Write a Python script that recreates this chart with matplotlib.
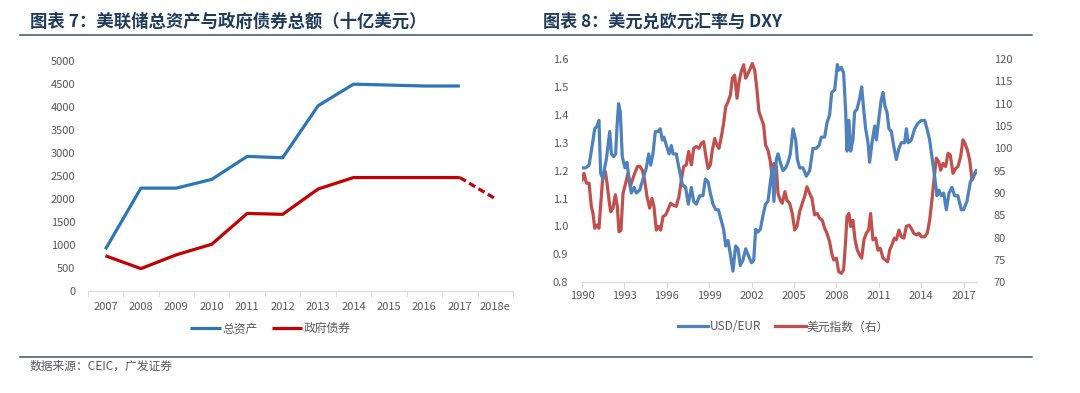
import matplotlib
matplotlib.use('Agg')
import matplotlib.pyplot as plt
from matplotlib.lines import Line2D

plt.rcParams['font.family'] = ['Noto Sans CJK SC', 'DejaVu Sans']

# ---- chart 7 data (billion USD) ----
years7 = ['2007', '2008', '2009', '2010', '2011', '2012', '2013', '2014',
          '2015', '2016', '2017', '2018e']
total_assets = [900, 2230, 2230, 2420, 2920, 2890, 4020, 4490, 4470, 4450, 4450]
gov_bonds = [760, 480, 780, 1010, 1680, 1660, 2210, 2460, 2460, 2460, 2460, 2000]

# ---- chart 8 data ----
usd_eur_t = [1990.00, 1990.26, 1990.50, 1990.66, 1990.78, 1990.90, 1991.06, 1991.20,
             1991.32, 1991.49, 1991.60, 1991.72, 1991.96, 1992.08, 1992.24, 1992.38,
             1992.48, 1992.59, 1992.71, 1992.85, 1993.04, 1993.18, 1993.33, 1993.49,
             1993.68, 1993.84, 1994.08, 1994.32, 1994.55, 1994.72, 1994.86, 1995.02,
             1995.19, 1995.38, 1995.54, 1995.68, 1995.80, 1995.97, 1996.16, 1996.32,
             1996.44, 1996.67, 1996.86, 1997.10, 1997.33, 1997.52, 1997.74, 1997.90,
             1998.09, 1998.33, 1998.56, 1998.73, 1998.92, 1999.08, 1999.27, 1999.46,
             1999.65, 1999.86, 2000.02, 2000.17, 2000.33, 2000.50, 2000.68, 2000.87,
             2001.04, 2001.20, 2001.39, 2001.58, 2001.82, 2002.00, 2002.15, 2002.29,
             2002.45, 2002.62, 2002.81, 2002.99, 2003.16, 2003.33, 2003.47, 2003.58,
             2003.75, 2003.87, 2004.03, 2004.22, 2004.41, 2004.58, 2004.74, 2004.93,
             2005.12, 2005.24, 2005.40, 2005.64, 2005.87, 2006.11, 2006.34, 2006.58,
             2006.77, 2006.93, 2007.17, 2007.33, 2007.52, 2007.67, 2007.88, 2008.07,
             2008.18, 2008.35, 2008.51, 2008.66, 2008.75, 2008.89, 2009.01, 2009.17,
             2009.29, 2009.46, 2009.65, 2009.79, 2009.93, 2010.07, 2010.24, 2010.35,
             2010.52, 2010.71, 2010.83, 2010.99, 2011.16, 2011.30, 2011.44, 2011.58,
             2011.72, 2011.89, 2012.05, 2012.24, 2012.43, 2012.59, 2012.83, 2012.95,
             2013.09, 2013.30, 2013.54, 2013.77, 2014.01, 2014.25, 2014.41, 2014.60,
             2014.79, 2014.95, 2015.12, 2015.26, 2015.42, 2015.59, 2015.78, 2015.97,
             2016.18, 2016.37, 2016.60, 2016.84, 2017.00, 2017.24, 2017.48, 2017.67,
             2017.90]
usd_eur = [1.21, 1.21, 1.22, 1.27, 1.31, 1.35, 1.36, 1.38,
           1.19, 1.17, 1.21, 1.24, 1.34, 1.26, 1.25, 1.26,
           1.36, 1.44, 1.41, 1.25, 1.21, 1.23, 1.17, 1.12,
           1.14, 1.12, 1.13, 1.17, 1.21, 1.26, 1.22, 1.26,
           1.34, 1.34, 1.35, 1.31, 1.32, 1.29, 1.26, 1.29,
           1.26, 1.26, 1.21, 1.15, 1.14, 1.08, 1.14, 1.09,
           1.08, 1.11, 1.11, 1.17, 1.16, 1.12, 1.08, 1.06,
           1.06, 1.02, 0.99, 0.93, 0.95, 0.90, 0.84, 0.93,
           0.92, 0.86, 0.88, 0.92, 0.89, 0.87, 0.88, 0.99,
           0.98, 0.99, 1.04, 1.08, 1.09, 1.16, 1.21, 1.09,
           1.24, 1.26, 1.23, 1.20, 1.21, 1.23, 1.26, 1.35,
           1.31, 1.24, 1.21, 1.21, 1.18, 1.20, 1.28, 1.28,
           1.29, 1.32, 1.32, 1.37, 1.40, 1.48, 1.49, 1.58,
           1.56, 1.57, 1.55, 1.41, 1.27, 1.38, 1.27, 1.31,
           1.41, 1.42, 1.46, 1.50, 1.42, 1.35, 1.30, 1.23,
           1.30, 1.36, 1.31, 1.38, 1.45, 1.48, 1.43, 1.41,
           1.35, 1.34, 1.29, 1.24, 1.28, 1.30, 1.30, 1.35,
           1.30, 1.31, 1.35, 1.37, 1.38, 1.38, 1.35, 1.31,
           1.24, 1.18, 1.11, 1.13, 1.11, 1.12, 1.06, 1.12,
           1.14, 1.11, 1.11, 1.06, 1.06, 1.09, 1.16, 1.18,
           1.20]

dxy_t = [1990.00, 1990.14, 1990.31, 1990.50, 1990.66, 1990.78, 1990.90, 1991.06,
         1991.20, 1991.37, 1991.49, 1991.65, 1991.79, 1991.91, 1992.03, 1992.19,
         1992.36, 1992.50, 1992.62, 1992.76, 1992.90, 1993.09, 1993.25, 1993.42,
         1993.56, 1993.73, 1993.92, 1994.08, 1994.27, 1994.43, 1994.60, 1994.79,
         1994.95, 1995.09, 1995.26, 1995.42, 1995.57, 1995.73, 1995.92, 1996.08,
         1996.27, 1996.44, 1996.67, 1996.86, 1997.03, 1997.19, 1997.38, 1997.55,
         1997.74, 1997.90, 1998.09, 1998.28, 1998.44, 1998.61, 1998.75, 1998.92,
         1999.08, 1999.22, 1999.39, 1999.55, 1999.69, 1999.86, 2000.02, 2000.17,
         2000.33, 2000.50, 2000.64, 2000.80, 2000.97, 2001.11, 2001.27, 2001.44,
         2001.58, 2001.75, 2001.91, 2002.05, 2002.22, 2002.38, 2002.52, 2002.69,
         2002.85, 2002.99, 2003.16, 2003.33, 2003.47, 2003.58, 2003.75, 2003.87,
         2004.03, 2004.17, 2004.36, 2004.50, 2004.69, 2004.88, 2005.05, 2005.21,
         2005.40, 2005.59, 2005.75, 2005.92, 2006.11, 2006.27, 2006.46, 2006.65,
         2006.82, 2007.00, 2007.17, 2007.33, 2007.52, 2007.67, 2007.81, 2008.00,
         2008.16, 2008.35, 2008.51, 2008.66, 2008.75, 2008.89, 2009.01, 2009.17,
         2009.32, 2009.48, 2009.65, 2009.79, 2009.95, 2010.12, 2010.28, 2010.42,
         2010.59, 2010.78, 2010.94, 2011.11, 2011.30, 2011.46, 2011.63, 2011.77,
         2011.93, 2012.10, 2012.24, 2012.43, 2012.59, 2012.78, 2012.95, 2013.14,
         2013.30, 2013.47, 2013.66, 2013.84, 2014.01, 2014.25, 2014.43, 2014.60,
         2014.76, 2014.93, 2015.07, 2015.24, 2015.38, 2015.54, 2015.73, 2015.90,
         2016.06, 2016.25, 2016.44, 2016.60, 2016.79, 2016.96, 2017.10, 2017.27,
         2017.43, 2017.60, 2017.76, 2017.90]
dxy = [92.9, 94.4, 92.2, 92.2, 87.0, 85.4, 82.1, 82.8,
       82.1, 89.2, 94.4, 94.8, 91.8, 88.4, 85.8, 86.6,
       89.6, 87.0, 81.3, 81.7, 89.9, 92.2, 94.4, 91.4,
       92.9, 94.4, 95.9, 96.0, 95.1, 92.9, 89.2, 86.6,
       88.8, 87.0, 81.7, 82.5, 81.7, 84.7, 85.1, 86.2,
       87.7, 87.3, 87.0, 89.2, 92.9, 95.9, 96.3, 99.3,
       96.3, 100.0, 100.4, 100.0, 101.1, 101.5, 98.5, 95.5,
       96.3, 99.6, 102.2, 100.7, 100.0, 102.6, 105.6, 109.3,
       110.4, 111.9, 115.7, 116.4, 111.2, 114.9, 117.2, 118.7,
       115.7, 116.8, 117.9, 119.0, 117.5, 113.1, 108.2, 106.7,
       105.2, 100.7, 99.6, 97.0, 93.3, 96.6, 95.9, 89.9,
       88.4, 87.7, 90.3, 88.4, 87.7, 85.4, 81.7, 82.5,
       85.8, 87.7, 89.2, 91.4, 89.9, 88.8, 85.1, 85.4,
       84.3, 83.9, 82.1, 81.0, 79.1, 76.5, 75.0, 75.4,
       72.4, 72.0, 72.8, 79.5, 84.7, 85.4, 82.5, 83.9,
       79.5, 77.2, 76.1, 75.4, 79.5, 81.0, 81.7, 85.4,
       79.5, 79.9, 77.2, 77.6, 75.4, 75.0, 74.6, 77.2,
       78.4, 79.9, 79.5, 81.7, 80.2, 79.9, 82.5, 82.8,
       82.1, 81.0, 80.6, 81.0, 80.2, 80.2, 81.0, 83.9,
       88.4, 93.7, 97.8, 97.0, 95.1, 96.6, 95.9, 98.9,
       98.5, 94.4, 95.5, 95.9, 98.1, 101.9, 101.1, 99.6,
       97.4, 92.9, 94.0, 94.8]

title_color = '#1F3B5C'
rule_color = '#3E5463'
tick_color = '#595959'

fig = plt.figure(figsize=(10.8, 3.93), dpi=100)

# titles and rules
fig.text(30 / 1080, 1 - 22 / 393, '图表 7：美联储总资产与政府债券总额（十亿美元）',
         fontsize=12.5, fontweight='bold', color=title_color, va='center', ha='left')
fig.text(543 / 1080, 1 - 22 / 393, '图表 8：美元兑欧元汇率与 DXY',
         fontsize=12.3, fontweight='bold', color=title_color, va='center', ha='left')
fig.add_artist(Line2D([20 / 1080, 1032 / 1080], [1 - 35 / 393, 1 - 35 / 393],
                      color=rule_color, lw=1.1))
fig.add_artist(Line2D([20 / 1080, 1032 / 1080], [1 - 357 / 393, 1 - 357 / 393],
                      color=rule_color, lw=1.1))
fig.text(30 / 1080, 1 - 366 / 393, '数据来源：CEIC，广发证券', fontsize=8.5,
         color='#595959', va='center', ha='left')

# ---- left chart ----
ax1 = fig.add_axes([87.7 / 1080, 1 - 290.7 / 393, (513 - 87.7) / 1080, (290.7 - 60.7) / 393])
x7 = list(range(len(years7)))
ax1.plot(x7[:len(total_assets)], total_assets, color='#2E75B6', lw=2.3,
         solid_capstyle='butt', label='总资产')
ax1.plot(x7[:11], gov_bonds[:11], color='#C00000', lw=2.3,
         solid_capstyle='butt', label='政府债券')
ax1.plot(x7[10:], gov_bonds[10:], color='#C00000', lw=2.3, ls=(0, (2.2, 1.2)))
ax1.set_xlim(-0.5, 11.5)
ax1.set_ylim(0, 5000)
ax1.set_yticks(range(0, 5001, 500))
ax1.set_xticks(x7)
ax1.set_xticklabels(years7)
ax1.set_xticks([i + 0.5 for i in range(-1, 12)], minor=True)
for s in ['top', 'right', 'left']:
    ax1.spines[s].set_visible(False)
ax1.spines['bottom'].set_color('#D9D9D9')
ax1.tick_params(axis='y', length=0, labelsize=8, colors=tick_color, pad=9)
ax1.tick_params(axis='x', which='major', length=0, labelsize=8, colors=tick_color, pad=8)
ax1.tick_params(axis='x', which='minor', length=4, color='#D9D9D9')
ax1.legend(loc='center', bbox_to_anchor=(0.43, -0.165), ncol=2, frameon=False,
           fontsize=8.5, handlelength=2.6, handletextpad=0.1, columnspacing=1.2,
           labelcolor=tick_color)

# ---- right chart ----
ax2 = fig.add_axes([582 / 1080, 1 - 282.3 / 393, (977 - 582) / 1080, (282.3 - 59) / 393])
ax3 = ax2.twinx()
l1, = ax2.plot(usd_eur_t, usd_eur, color='#4F81BD', lw=2.3, label='USD/EUR')
l2, = ax3.plot(dxy_t, dxy, color='#C0504D', lw=2.3, label='美元指数（右）')
ax2.set_zorder(ax3.get_zorder() + 1)
ax2.patch.set_visible(False)
ax2.set_xlim(1990, 2017.95)
ax2.set_ylim(0.8, 1.6)
ax3.set_ylim(70, 120)
ax2.set_yticks([0.8, 0.9, 1.0, 1.1, 1.2, 1.3, 1.4, 1.5, 1.6])
ax2.set_yticklabels(['0.8', '0.9', '1.0', '1.1', '1.2', '1.3', '1.4', '1.5', '1.6'])
ax3.set_yticks(range(70, 121, 5))
ax2.set_xticks(range(1990, 2018, 3))
for a in (ax2, ax3):
    for s in ['top', 'right', 'left']:
        a.spines[s].set_visible(False)
    a.spines['bottom'].set_color('#D9D9D9')
ax2.tick_params(axis='y', length=0, labelsize=8, colors=tick_color, pad=10)
ax3.tick_params(axis='y', length=0, labelsize=8, colors=tick_color, pad=12)
ax2.tick_params(axis='x', length=4, labelsize=8, colors=tick_color, color='#D9D9D9', pad=2)
ax2.legend(handles=[l1, l2], loc='center', bbox_to_anchor=(0.51, -0.2), ncol=2,
           frameon=False, fontsize=8.5, handlelength=2.6, handletextpad=0.1,
           columnspacing=1.2, labelcolor=tick_color)

fig.savefig('out.png', dpi=100)
